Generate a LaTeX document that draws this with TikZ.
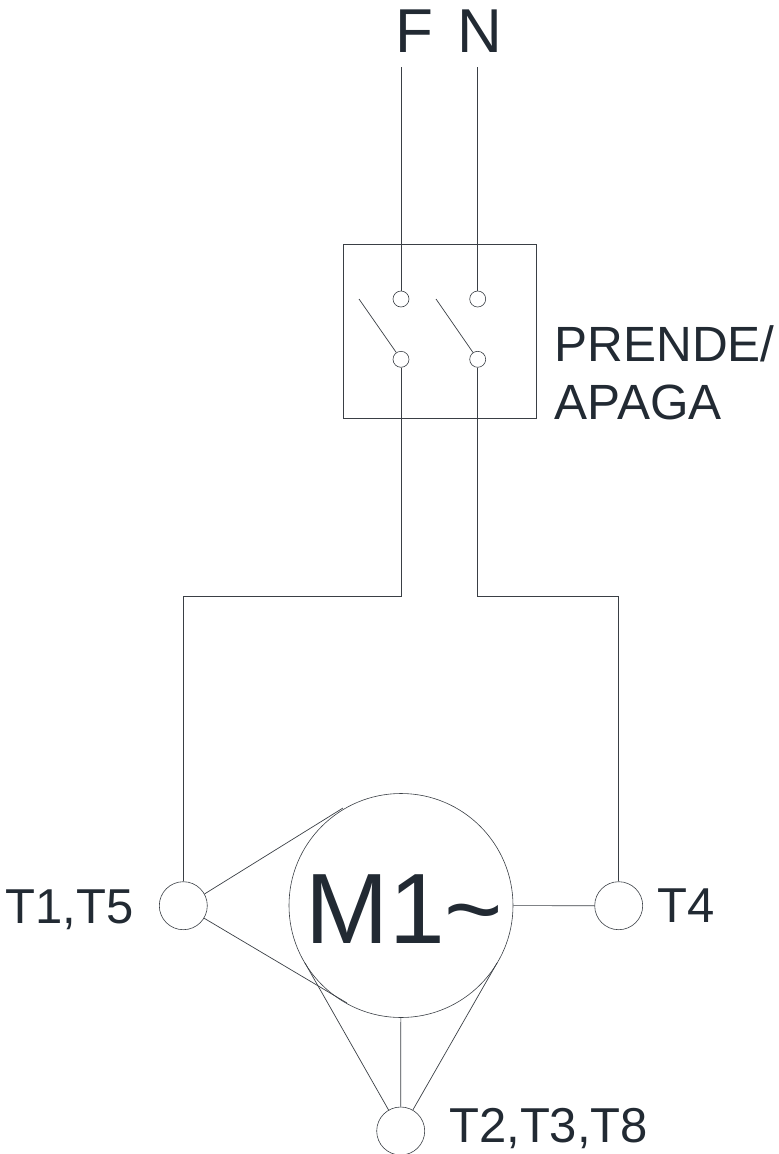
\documentclass[tikz,border=0pt]{standalone}
\usepackage{fontspec}
\setmainfont{Liberation Sans}
\definecolor{ink}{HTML}{222A33}
\definecolor{wirec}{HTML}{3A3F45}
\tikzset{
  wire/.style={draw=wirec, line width=0.7pt},
  term/.style={circle, draw=wirec, line width=0.6pt, inner sep=0pt, minimum size=#1},
  lbl/.style={inner sep=0pt, anchor=base west, text=ink, font=\fontsize{#1}{#1}\selectfont},
}
\begin{document}
\begin{tikzpicture}[x=1pt,y=-1pt]
\useasboundingbox (0,0) rectangle (779,1154);
\node[lbl=62] (F) at (395,52) {F};
\node[lbl=62] (N) at (457,52) {N};
\node[draw=wirec,line width=0.7pt,minimum width=193.3,minimum height=173.7,inner sep=0pt,anchor=north west] (box) at (342.7,244) {};
\node[term=16] (a1) at (401,299) {};
\node[term=16] (a2) at (477.7,299) {};
\node[term=16] (b1) at (401,359.3) {};
\node[term=16] (b2) at (477.7,359.3) {};
\coordinate (Ftop) at (401,67);
\coordinate (Ntop) at (477.7,67);
\coordinate (s1) at (359,299);
\coordinate (s2) at (436,299);
\draw[wire] (Ftop) -- (a1);
\draw[wire] (Ntop) -- (a2);
\draw[wire] (s1) -- (b1);
\draw[wire] (s2) -- (b2);
\node[term=224] (m) at (401,905.5) {};
\node[lbl=100] (mt) at (305.5,943) {M1\char`~};
\node[term=48] (t1) at (183.3,905.7) {};
\node[term=48] (t4) at (618.7,905.7) {};
\node[term=48] (t2) at (400.7,1131) {};
\coordinate (c1) at (401,596);
\coordinate (c2) at (183.3,596);
\coordinate (c3) at (477.7,596);
\coordinate (c4) at (618.7,596);
\draw[wire] (b1) -- (c1) -- (c2) -- (t1);
\draw[wire] (b2) -- (c3) -- (c4) -- (t4);
\coordinate (m1) at (343,808);
\coordinate (m2) at (347,1003);
\coordinate (m3) at (305,963);
\coordinate (m4) at (497,963);
\draw[wire] (t1.29) -- (m1);
\draw[wire] (t1.-31) -- (m2);
\draw[wire] (m) -- (t4);
\draw[wire] (m) -- (t2);
\draw[wire] (m3) -- (t2.120);
\draw[wire] (m4) -- (t2.60);
\node[lbl=49.5] (p) at (554.5,361) {PRENDE/};
\node[lbl=49.5] (q) at (554.5,419) {APAGA};
\node[lbl=49] (l1) at (5.5,923) {T1,T5};
\node[lbl=49] (l4) at (657,922.5) {T4};
\node[lbl=49] (l2) at (449,1142) {T2,T3,T8};
\end{tikzpicture}
\end{document}
